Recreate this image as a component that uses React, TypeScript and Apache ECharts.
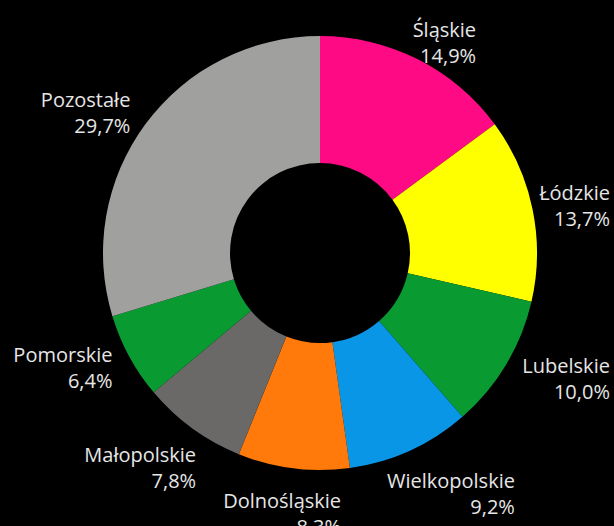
import React, { useEffect, useRef } from "react";
import * as echarts from "echarts";

const regions = ["Śląskie", "Łódzkie", "Lubelskie", "Wielkopolskie", "Dolnośląskie", "Małopolskie", "Pomorskie", "Pozostałe"];
const shares = [14.9, 13.7, 10.0, 9.2, 8.3, 7.8, 6.4, 29.7];
const colors = ["#FF0A85", "#FFFF00", "#0A9A32", "#0A96E6", "#FF7A0A", "#6B6868", "#0A9A32", "#A0A09E"];

const W = 614;
const H = 526;
const CX = 320;
const CY = 253;
const R_IN = 90;
const R_OUT = 217;
const LABEL_DIST = 236;

const clamp = (v: number, lo: number, hi: number) => Math.max(lo, Math.min(hi, v));

export default function App() {
  const ref = useRef<HTMLDivElement>(null);
  useEffect(() => {
    const chart = echarts.init(ref.current!, null, { renderer: "svg" });
    const total = shares.reduce((a, b) => a + b, 0);
    const midAngles: number[] = [];
    let acc = 0;
    shares.forEach((v) => {
      midAngles.push(((acc + v / 2) / total) * Math.PI * 2);
      acc += v;
    });
    chart.setOption({
      animation: false,
      backgroundColor: "#000000",
      series: [
        {
          type: "pie",
          center: [CX, CY],
          radius: [R_IN, R_OUT],
          startAngle: 90,
          clockwise: true,
          avoidLabelOverlap: false,
          itemStyle: { borderWidth: 0 },
          label: {
            show: true,
            position: "outside",
            color: "#E6E6E6",
            fontFamily: "'Open Sans', sans-serif",
            fontSize: 20,
            lineHeight: 26,
            formatter: (p: any) => `${p.name}\n${p.value.toFixed(1).replace(".", ",")}%`,
          },
          labelLine: { show: false, length: 5, length2: 0 },
          labelLayout: (p: any) => {
            const a = midAngles[p.dataIndex];
            const s = Math.sin(a);
            const c = Math.cos(a);
            const w = p.labelRect.width;
            const h = p.labelRect.height;
            const ax = CX + s * LABEL_DIST;
            const ay = CY - c * LABEL_DIST;
            const fx = 0.5 - 0.5 * clamp(s / 0.8, -1, 1);
            const fy = 0.5 * (1 - clamp((-c - 0.45) / 0.4, 0, 1));
            let right = ax - w * fx + w;
            let top = ay - h * fy;
            right = Math.min(right, W - 4);
            top = Math.max(top, 6);
            return { x: right, y: top, align: "right", verticalAlign: "top" };
          },
          data: regions.map((name, i) => ({ name, value: shares[i], itemStyle: { color: colors[i] } })),
        },
      ],
    });
    return () => chart.dispose();
  }, []);
  return <div ref={ref} style={{ position: "fixed", left: 0, top: 0, width: W, height: H }} />;
}
